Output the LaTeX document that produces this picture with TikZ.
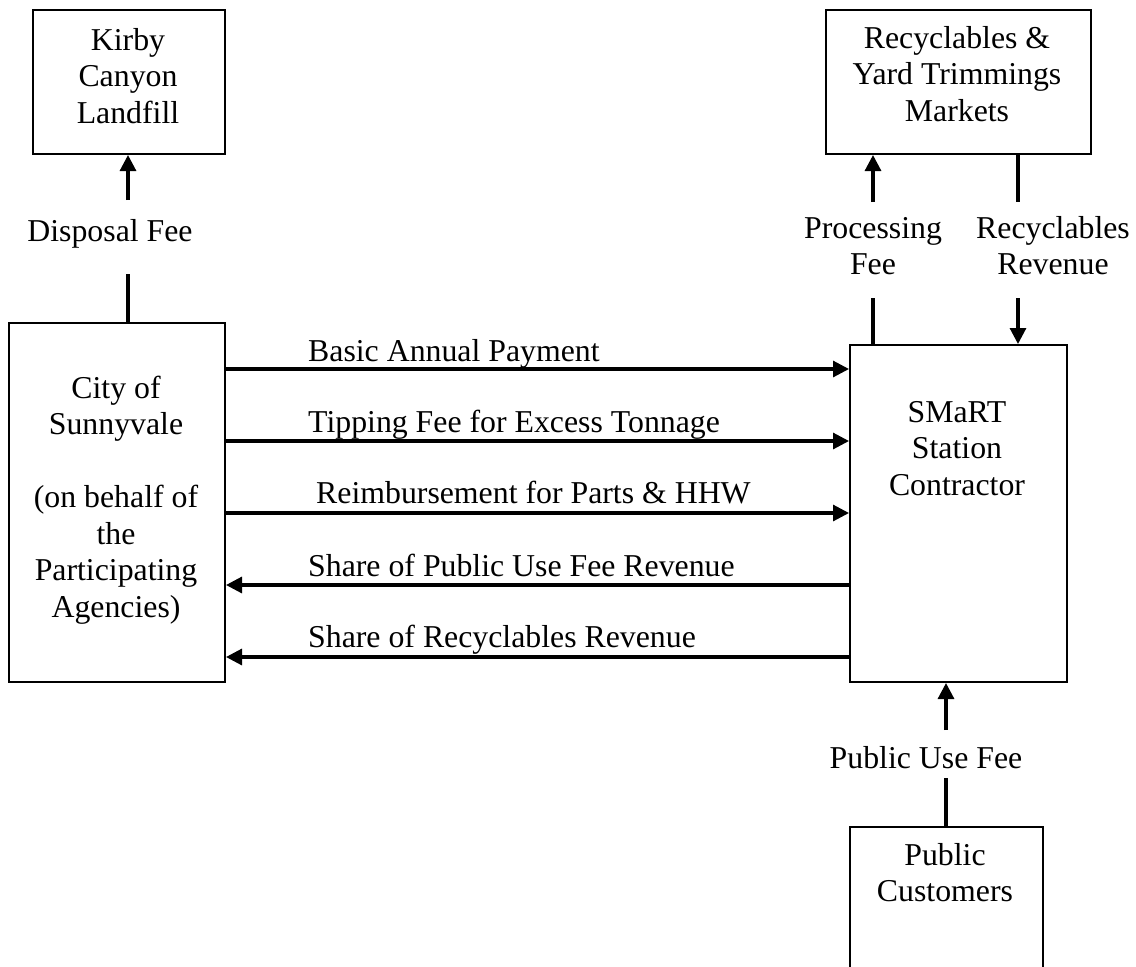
\documentclass[tikz,border=0pt]{standalone}
\usepackage{fontspec}
\setmainfont{Liberation Serif}
\usetikzlibrary{arrows.meta}
\newcommand{\firststrut}{\rule{0pt}{25pt}}
\begin{document}
\begin{tikzpicture}[x=1pt,y=-1pt,
  box/.style={draw,line width=2pt,rectangle,inner sep=0pt,anchor=north west},
  txt/.style={font=\fontsize{31.8}{36.5}\selectfont,inner sep=0pt,align=center},
  conn/.style={line width=3.1pt},
  arr/.style={line width=3.1pt,-{Triangle[length=16pt,width=16pt]}}]
\useasboundingbox (0,0) rectangle (1136,967);
\clip (0,0) rectangle (1136,967);
% boxes
\node[box,minimum width=192pt,minimum height=144pt] (kirby) at (32,9) {};
\node[box,minimum width=216pt,minimum height=359pt] (city) at (8,322) {};
\node[box,minimum width=265pt,minimum height=144pt] (recyc) at (825,9) {};
\node[box,minimum width=217pt,minimum height=337pt] (smart) at (849,344) {};
\node[box,minimum width=193pt,minimum height=180pt] (public) at (849,826) {};
% box texts
\node[txt,anchor=north] (tkirby) at (128,25) {\firststrut Kirby\\Canyon\\Landfill};
\node[txt,anchor=north] (trecyc) at (957,23) {\firststrut Recyclables \&\\Yard Trimmings\\Markets};
\node[txt,anchor=north] (tcity) at (116,373) {\firststrut City of\\Sunnyvale\\[36.5pt](on behalf of\\the\\Participating\\Agencies)};
\node[txt,anchor=north] (tsmart) at (957,397) {\firststrut SMaRT\\Station\\Contractor};
\node[txt,anchor=north] (tpublic) at (945,840) {\firststrut Public\\Customers};
% vertical connector labels
\node[txt,anchor=base] (ldisp) at (110,241) {Disposal Fee};
\node[txt,anchor=north] (lproc) at (873,213) {\firststrut Processing\\Fee};
\node[txt,anchor=north] (lrev) at (1053,213) {\firststrut Recyclables\\Revenue};
\node[txt,anchor=base] (lpub) at (926,768) {Public Use Fee};
% free ends
\coordinate (d1) at (128,200);
\coordinate (d2) at (128,274);
\coordinate (p1) at (873,202);
\coordinate (p2) at (873,298);
\coordinate (r1) at (1018,202);
\coordinate (r2) at (1018,298);
\coordinate (u1) at (946,730);
\coordinate (u2) at (946,778);
\coordinate (h1) at (0,369);
\coordinate (h2) at (0,441);
\coordinate (h3) at (0,513);
\coordinate (h4) at (0,585);
\coordinate (h5) at (0,657);
% vertical connectors
\draw[arr] (d1) -- (kirby.south -| d1);
\draw[conn] (city.north -| d2) -- (d2);
\draw[arr] (p1) -- (recyc.south -| p1);
\draw[conn] (smart.north -| p2) -- (p2);
\draw[conn] (recyc.south -| r1) -- (r1);
\draw[arr] (r2) -- (smart.north -| r2);
\draw[arr] (u1) -- (smart.south -| u1);
\draw[conn] (public.north -| u2) -- (u2);
% horizontal connectors
\draw[arr] (city.east |- h1) -- (smart.west |- h1);
\draw[arr] (city.east |- h2) -- (smart.west |- h2);
\draw[arr] (city.east |- h3) -- (smart.west |- h3);
\draw[arr] (smart.west |- h4) -- (city.east |- h4);
\draw[arr] (smart.west |- h5) -- (city.east |- h5);
% horizontal labels
\node[txt,anchor=base west] (l1) at (308,361) {Basic Annual Payment};
\node[txt,anchor=base west] (l2) at (308,432) {Tipping Fee for Excess Tonnage};
\node[txt,anchor=base west] (l3) at (316,503) {Reimbursement for Parts \& HHW};
\node[txt,anchor=base west] (l4) at (308,576) {Share of Public Use Fee Revenue};
\node[txt,anchor=base west] (l5) at (308,647) {Share of Recyclables Revenue};
\end{tikzpicture}
\end{document}
